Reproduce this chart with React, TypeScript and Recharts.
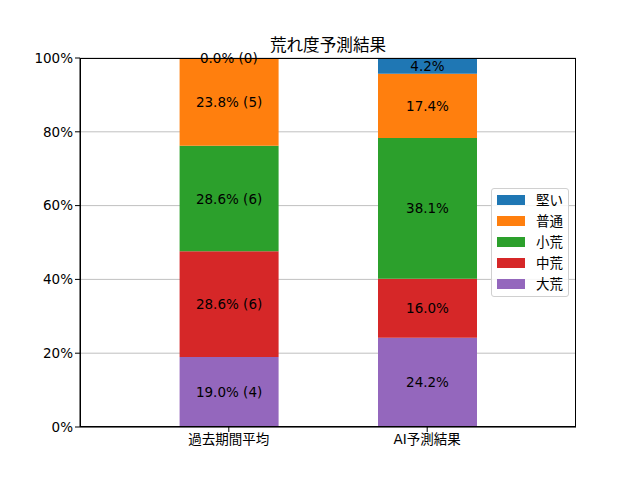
import React from 'react';
import { BarChart, Bar, XAxis, YAxis, CartesianGrid, LabelList, ReferenceDot } from 'recharts';

const categories = ['過去期間平均', 'AI予測結果'];
const seriesNames = ['大荒', '中荒', '小荒', '普通', '堅い'];
const daiare = [19.0, 24.2];
const chuare = [28.6, 16.0];
const shoare = [28.6, 38.1];
const futsu = [23.8, 17.4];
const katai = [0.0, 4.2];
const daiareCount = [4, null];
const chuareCount = [6, null];
const shoareCount = [6, null];
const futsuCount = [5, null];
const kataiCount = [0, null];
const yTicks = [0, 20, 40, 60, 80, 100];
const colors = ['#9467bd', '#d62728', '#2ca02c', '#ff7f0e', '#1f77b4'];

const valueArrays = [daiare, chuare, shoare, futsu, katai];
const countArrays = [daiareCount, chuareCount, shoareCount, futsuCount, kataiCount];

const makeLabel = (k: number, i: number) => {
  const cnt = countArrays[k][i];
  return valueArrays[k][i].toFixed(1) + '%' + (cnt !== null && cnt !== undefined ? ` (${cnt})` : '');
};

const data = categories.map((c, i) => {
  const row: any = { name: c };
  seriesNames.forEach((s, k) => {
    row['s' + k] = valueArrays[k][i];
    row['l' + k] = makeLabel(k, i);
  });
  return row;
});

// labels of zero-height segments (placed at their stack position via the y scale)
const zeroLabels: { cat: string; y: number; text: string }[] = [];
categories.forEach((c, i) => {
  let cum = 0;
  seriesNames.forEach((s, k) => {
    cum += valueArrays[k][i];
    if (valueArrays[k][i] === 0) zeroLabels.push({ cat: c, y: cum, text: makeLabel(k, i) });
  });
});

const FONT = '"DejaVu Sans", "Noto Sans CJK JP", sans-serif';
const FS = 13.5;

const CenterLabel = (props: any) => {
  const { x, y, width, height, value } = props;
  if (value === undefined || value === null) return null;
  return (
    <text
      x={Number(x) + Number(width) / 2}
      y={Number(y) + Number(height || 0) / 2}
      textAnchor="middle"
      dominantBaseline="central"
      fill="#000"
      style={{ fontSize: FS, fontFamily: FONT }}
    >
      {value}
    </text>
  );
};

const ZeroLabel = (props: any) => {
  const { viewBox, text } = props;
  if (!viewBox) return null;
  const cx = viewBox.x + (viewBox.width || 0) / 2;
  const cy = viewBox.y + (viewBox.height || 0) / 2;
  return (
    <text x={cx} y={cy} textAnchor="middle" dominantBaseline="central" fill="#000" style={{ fontSize: FS, fontFamily: FONT }}>
      {text}
    </text>
  );
};

export default function App() {
  const legendItems = seriesNames.map((s, k) => ({ name: s, color: colors[k] })).reverse();
  return (
    <div style={{ position: 'absolute', left: 0, top: 0, width: 640, height: 480, background: '#fff', fontFamily: FONT }}>
      <div
        style={{
          position: 'absolute',
          left: 80,
          width: 496,
          top: 33,
          textAlign: 'center',
          fontSize: 16.6,
          lineHeight: '22px',
          color: '#000',
          fontFamily: '"Noto Sans CJK JP", sans-serif',
        }}
      >
        荒れ度予測結果
      </div>
      <BarChart
        width={640}
        height={480}
        data={data}
        margin={{ top: 58, right: 64, bottom: 23, left: 20 }}
        barCategoryGap={0}
      >
        <CartesianGrid vertical={false} horizontal stroke="#b0b0b0" strokeWidth={0.8} />
        <XAxis
          dataKey="name"
          height={30}
          padding={{ left: 49.6, right: 49.6 }}
          tickLine={{ stroke: '#000' }}
          tickSize={5}
          axisLine={{ stroke: '#000' }}
          tick={{ fill: '#000', fontSize: FS, fontFamily: FONT }}
        />
        <YAxis
          width={60}
          domain={[0, 100]}
          ticks={yTicks}
          allowDataOverflow
          tickFormatter={(v: number) => `${v}%`}
          tickSize={5}
          tickLine={{ stroke: '#000' }}
          axisLine={{ stroke: '#000' }}
          tick={{ fill: '#000', fontSize: FS, fontFamily: FONT }}
        />
        {seriesNames.map((s, k) => (
          <Bar
            key={s}
            dataKey={'s' + k}
            name={s}
            stackId="a"
            fill={colors[k]}
            barSize={99}
            isAnimationActive={false}
          >
            <LabelList dataKey={'l' + k} content={<CenterLabel />} />
          </Bar>
        ))}
        {zeroLabels.map((z, j) => (
          <ReferenceDot
            key={'z' + j}
            x={z.cat}
            y={z.y}
            r={0}
            fill="none"
            stroke="none"
            ifOverflow="visible"
            label={<ZeroLabel text={z.text} />}
          />
        ))}
      </BarChart>
      <div
        style={{
          position: 'absolute',
          left: 80,
          top: 58,
          width: 496,
          height: 369,
          boxSizing: 'border-box',
          border: '1px solid #000',
          pointerEvents: 'none',
        }}
      />
      <div
        style={{
          position: 'absolute',
          left: 491,
          top: 188,
          width: 78,
          height: 109,
          boxSizing: 'border-box',
          border: '1px solid #d0d0d0',
          borderRadius: 3,
          background: 'rgba(255,255,255,0.85)',
          padding: '1px 0 0 5px',
          fontSize: FS,
          fontFamily: '"Noto Sans CJK JP", sans-serif',
        }}
      >
        {legendItems.map((it) => (
          <div key={it.name} style={{ display: 'flex', alignItems: 'center', height: 21, lineHeight: '21px' }}>
            <span style={{ display: 'inline-block', width: 28, height: 10, background: it.color, marginRight: 11, marginTop: -2 }} />
            <span style={{ color: '#000', marginTop: -2 }}>{it.name}</span>
          </div>
        ))}
      </div>
    </div>
  );
}
